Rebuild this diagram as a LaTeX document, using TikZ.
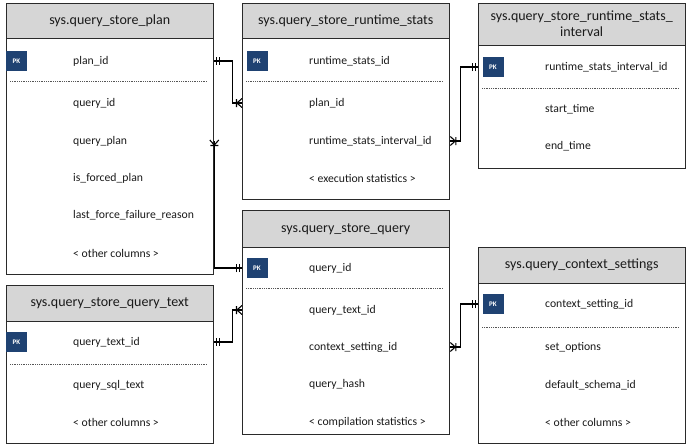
\documentclass[tikz,border=0pt]{standalone}
\usepackage{fontspec}
\setmainfont{Carlito}
\definecolor{edge}{HTML}{2A2A2A}
\definecolor{headgray}{HTML}{D6D6D6}
\definecolor{pkblue}{HTML}{1F4272}
\definecolor{ink}{HTML}{1A1A1A}
\begin{document}
\begin{tikzpicture}[x=1pt,y=-1pt,
  headfill/.style={fill=headgray, anchor=north west, inner sep=0pt, minimum width=207pt},
  tableframe/.style={draw=edge, line width=1.3pt, anchor=north west, inner sep=0pt, minimum width=207pt},
  frameline/.style={draw=edge, line width=1.3pt},
  titletext/.style={text=ink, font=\fontsize{14}{16}\selectfont, align=center, inner sep=0pt},
  rowtext/.style={text=ink, font=\fontsize{11.7}{13}\selectfont, anchor=west, inner sep=0pt},
  pk/.style={fill=pkblue, text=white, minimum width=21pt, minimum height=20pt, inner sep=0pt,
    font=\fontsize{7}{7}\selectfont\bfseries},
  rowsep/.style={draw=edge!80, line width=0.6pt, dash pattern=on 1pt off 0.8pt},
  link/.style={draw=black, line width=1.2pt},
  onebar/.pic={\draw[line width=1.1pt] (2.5,-4) -- (2.5,4) (5.5,-4) -- (5.5,4);},
  crowfoot/.pic={\draw[line width=1.1pt] (0,-4.5) -- (5,0) -- (0,4.5) (5.5,-4) -- (5.5,4);}
]
\useasboundingbox (0,0) rectangle (690,447);

% one table: name, top-left corner, total height, header height, title
\newcommand\erdtable[5]{%
  \node[headfill, minimum height=#4pt] (#1h) at #2 {};
  \node[tableframe, minimum height=#3pt] (#1) at #2 {};
  \draw[frameline] (#1h.south west) -- (#1h.south east);
  \node[titletext] at (#1h.center) {#5};
}

% ---- tables ----
\erdtable{plan}{(6,3)}{271}{35}{sys.query\_store\_plan}
\erdtable{rts}{(242,3)}{196}{35}{sys.query\_store\_runtime\_stats}
\erdtable{rsi}{(478,3)}{165}{42}{sys.query\_store\_runtime\_stats\_\\interval}
\erdtable{qtext}{(6,285)}{158}{36}{sys.query\_store\_query\_text}
\erdtable{query}{(242,210)}{224}{37}{sys.query\_store\_query}
\erdtable{ctx}{(478,247)}{196}{36}{sys.query\_context\_settings}

% ---- sys.query_store_plan ----
\node[pk] at (16.5,61) {PK};
\node[rowtext] (p1) at (73,61) {plan\_id};
\draw[rowsep] (10,81) -- (207,81);
\node[rowtext] (p2) at (73,103) {query\_id};
\node[rowtext] (p3) at (73,141) {query\_plan};
\node[rowtext] (p4) at (73,178) {is\_forced\_plan};
\node[rowtext] (p5) at (73,215) {last\_force\_failure\_reason};
\node[rowtext] (p6) at (73,253) {< other columns >};

% ---- sys.query_store_runtime_stats ----
\node[pk] at (257,61) {PK};
\node[rowtext] (r1) at (309,61) {runtime\_stats\_id};
\draw[rowsep] (246,81) -- (443,81);
\node[rowtext] (r2) at (309,103) {plan\_id};
\node[rowtext] (r3) at (309,141) {runtime\_stats\_interval\_id};
\node[rowtext] (r4) at (309,178) {< execution statistics >};

% ---- sys.query_store_runtime_stats_interval ----
\node[pk] at (493,67) {PK};
\node[rowtext] (i1) at (545,67) {runtime\_stats\_interval\_id};
\draw[rowsep] (482,88) -- (679,88);
\node[rowtext] (i2) at (545,109) {start\_time};
\node[rowtext] (i3) at (545,146) {end\_time};

% ---- sys.query_store_query_text ----
\node[pk] at (16.5,342) {PK};
\node[rowtext] (t1) at (73,342) {query\_text\_id};
\draw[rowsep] (10,364) -- (207,364);
\node[rowtext] (t2) at (73,385) {query\_sql\_text};
\node[rowtext] (t3) at (73,422) {< other columns >};

% ---- sys.query_store_query ----
\node[pk] at (257,268) {PK};
\node[rowtext] (q1) at (309,268) {query\_id};
\draw[rowsep] (246,288) -- (443,288);
\node[rowtext] (q2) at (309,310) {query\_text\_id};
\node[rowtext] (q3) at (309,347) {context\_setting\_id};
\node[rowtext] (q4) at (309,384) {query\_hash};
\node[rowtext] (q5) at (309,422) {< compilation statistics >};

% ---- sys.query_context_settings ----
\node[pk] at (493,304) {PK};
\node[rowtext] (c1) at (545,304) {context\_setting\_id};
\draw[rowsep] (482,327) -- (679,327);
\node[rowtext] (c2) at (545,347) {set\_options};
\node[rowtext] (c3) at (545,385) {default\_schema\_id};
\node[rowtext] (c4) at (545,422) {< other columns >};

% ---- relationships ----
% plan.plan_id -> runtime_stats.plan_id
\draw[link] (plan.east |- p1) -- ++(18,0) |- (rts.west |- r2);
\pic at (plan.east |- p1) {onebar};
\pic[rotate=180] at (rts.west |- r2) {crowfoot};

% runtime_stats.runtime_stats_interval_id -> interval
\draw[link] (rts.east |- r3) -- ++(10,0) |- (rsi.west |- i1);
\pic at (rts.east |- r3) {crowfoot};
\pic[rotate=180] at (rsi.west |- i1) {onebar};

% plan.query_id -> query.query_id
\draw[link] (plan.east |- p3) |- (query.west |- q1);
\pic[rotate=-90] at ([yshift=1pt]plan.east |- p3) {crowfoot};
\pic[rotate=180] at (query.west |- q1) {onebar};

% query_text.query_text_id -> query.query_text_id
\draw[link] (qtext.east |- t1) -- ++(18,0) |- (query.west |- q2);
\pic at (qtext.east |- t1) {onebar};
\pic[rotate=180] at (query.west |- q2) {crowfoot};

% query.context_setting_id -> context_settings
\draw[link] (query.east |- q3) -- ++(10,0) |- (ctx.west |- c1);
\pic at (query.east |- q3) {crowfoot};
\pic[rotate=180] at (ctx.west |- c1) {onebar};
\end{tikzpicture}
\end{document}
